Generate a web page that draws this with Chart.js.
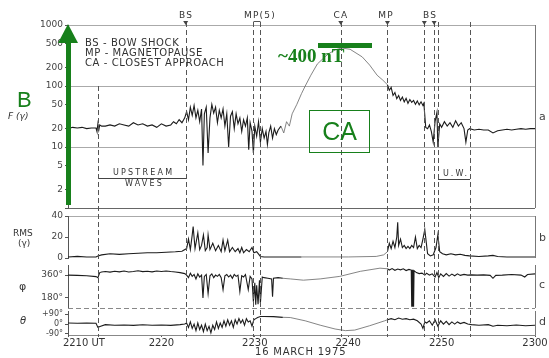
<!DOCTYPE html>
<html>
<head>
<meta charset="utf-8">
<script src="https://cdn.jsdelivr.net/npm/chart.js@4.4.1/dist/chart.umd.min.js"></script>
<style>
body { margin: 0; background: #fff; }
#wrap { position: relative; width: 549px; height: 358px; overflow: hidden; font-family: "DejaVu Sans", sans-serif; color: #333; }
#wrap canvas { position: absolute; left: 0; top: 0; }
.t { position: absolute; white-space: nowrap; line-height: 1; }
.mk { font-size: 9px; letter-spacing: 1.2px; transform: translateX(-50%); top: 11px; }
.lg { font-size: 10px; letter-spacing: 0.6px; left: 85px; }
.pl { font-size: 11px; left: 539px; color: #444; }
.green { color: #17801b; }
</style>
</head>
<body>
<div id="wrap">
  <canvas id="cA" width="549" height="358"></canvas>
  <canvas id="cB" width="549" height="358"></canvas>
  <canvas id="cC" width="549" height="358"></canvas>
  <canvas id="cD" width="549" height="358"></canvas>

  <div class="t mk" style="left:186px">BS</div>
  <div class="t mk" style="left:260px">MP(5)</div>
  <div class="t mk" style="left:341px">CA</div>
  <div class="t mk" style="left:386px">MP</div>
  <div class="t mk" style="left:430px">BS</div>

  <div class="t lg" style="top:38px">BS - BOW SHOCK</div>
  <div class="t lg" style="top:48px">MP - MAGNETOPAUSE</div>
  <div class="t lg" style="top:58px">CA - CLOSEST APPROACH</div>

  <div class="t" style="left:113px;top:169px;font-size:8px;letter-spacing:2.2px">UPSTREAM</div>
  <div class="t" style="left:125px;top:180px;font-size:8px;letter-spacing:2.2px">WAVES</div>
  <div class="t" style="left:99px;top:178px;width:87px;height:0;border-top:1px solid #444"></div>
  <div class="t" style="left:443px;top:170px;font-size:8px;letter-spacing:2px">U.W.</div>
  <div class="t" style="left:438px;top:179px;width:32px;height:0;border-top:1px solid #444"></div>

  <div class="t" style="left:8px;top:112px;font-size:9px;font-style:italic">F (γ)</div>
  <div class="t" style="left:13px;top:229px;font-size:9px">RMS</div>
  <div class="t" style="left:18px;top:239px;font-size:9px">(γ)</div>
  <div class="t" style="left:19px;top:281px;font-size:11px">φ</div>
  <div class="t" style="left:20px;top:316px;font-size:10px;font-style:italic">θ</div>

  <div class="t pl" style="top:111px">a</div>
  <div class="t pl" style="top:232px">b</div>
  <div class="t pl" style="top:279px">c</div>
  <div class="t pl" style="top:316px">d</div>

  <div class="t" style="left:255px;top:347px;font-size:10px;letter-spacing:0.8px">16 MARCH 1975</div>

  <!-- green overlay annotations -->
  <div class="t" style="left:66px;top:40px;width:5px;height:165px;background:#17801b"></div>
  <div class="t" style="left:58px;top:24px;width:0;height:0;border-left:10px solid transparent;border-right:10px solid transparent;border-bottom:19px solid #17801b"></div>
  <div class="t green" style="left:17px;top:89px;font-family:'Liberation Sans',sans-serif;font-size:22px">B</div>
  <div class="t" style="left:318px;top:43px;width:54px;height:5px;background:#17801b"></div>
  <div class="t green" style="left:278px;top:46px;font-family:'Liberation Serif',serif;font-weight:bold;font-size:19px">~400 nT</div>
  <div class="t green" style="left:309px;top:110px;width:59px;height:41px;border:1px solid #17801b;font-family:'Liberation Sans',sans-serif;font-size:25px;text-align:center;line-height:41px">CA</div>
</div>

<script>
// time axis: minutes after 2210 UT
const xTicks = [0, 10, 20, 30, 40, 50];
const xLabels = ['2210 UT', '2220', '2230', '2240', '2250', '2300'];

// event lines (BS, MP, CA crossings, upstream wave limits)
const eventTimes = [3.2, 12.6, 19.8, 20.6, 29.2, 34.2, 38.15, 39.2, 39.65, 43.0];

// panel a: field magnitude F (gamma), log scale
const aTicks = [1, 2, 5, 10, 20, 50, 100, 200, 500, 1000];
const tA = [
  0, 0.5, 1, 1.5, 2, 2.5, 3, 3.1, 3.2, 3.3, 3.4, 3.6,
  4, 4.5, 5, 5.5, 6, 6.5, 7, 7.5, 8, 8.5, 9, 9.5, 10, 10.5, 11, 11.3, 11.6, 11.9, 12.2, 12.5,
  12.7, 12.9, 13.1, 13.3, 13.5, 13.7, 13.9, 14.1, 14.3, 14.45, 14.6, 14.8, 15.0, 15.2, 15.4, 15.6, 15.8, 16.0, 16.2, 16.4,
  16.6, 16.8, 17.0, 17.2, 17.4, 17.6, 17.8, 18.0, 18.2, 18.4, 18.6, 18.8, 19.0, 19.2, 19.35, 19.5, 19.7, 19.85, 20.0, 20.2,
  20.4, 20.6, 20.8, 21.0, 21.2, 21.35, 21.5, 21.7, 21.9, 22.1, 22.3, 22.5,
  22.8, 23.1, 23.4, 23.7, 24.0, 24.5, 25.0, 25.4, 26.0, 26.7, 27.3, 27.8, 28.6, 29.3, 30.2, 31.5, 32.3, 33.1, 33.7, 34.2,
  34.4, 34.6, 34.8, 35.0, 35.2, 35.4, 35.6, 35.8, 36.0, 36.2, 36.4, 36.6, 36.8, 37.0, 37.2, 37.4, 37.6, 37.8, 38.0, 38.1,
  38.3, 38.5, 38.7, 38.9, 39.1, 39.3, 39.5, 39.6, 39.8, 40.0, 40.3, 40.6, 40.9, 41.2, 41.5, 41.8, 42.1, 42.4, 42.6, 42.8, 43.0,
  43.5, 44, 44.5, 45, 45.5, 46, 46.5, 47, 47.5, 48, 48.5, 49, 49.5, 50
];
const fA = [
  20, 21, 20.5, 21, 20, 20.5, 20.5, 18, 24, 19, 23, 22,
  22, 23, 22, 24, 23, 22, 25, 23, 24, 22, 23, 21, 24, 22, 23, 26, 24, 28, 25, 30,
  38, 28, 45, 33, 48, 30, 40, 26, 42, 5, 35, 45, 8, 30, 50, 36, 45, 25, 40, 30,
  42, 22, 35, 10, 32, 38, 20, 35, 24, 30, 18, 28, 22, 30, 9, 25, 18, 8, 22, 15,
  26, 12, 20, 14, 18, 11, 17, 22, 14, 20, 16, 19,
  22, 17, 26, 22, 35, 50, 75, 100, 150, 230, 280, 330, 390, 420, 400, 300, 220, 150, 125, 105,
  85, 95, 70, 78, 62, 70, 58, 66, 55, 63, 52, 60, 54, 58, 50, 57, 49, 55, 48, 52,
  21, 20, 23, 18, 12, 26, 37, 10, 24, 21, 26, 22, 25, 21, 27, 22, 25, 20, 12, 19, 20,
  19, 19.5, 19, 19, 17, 18.5, 19, 19.5, 19, 19.5, 20, 19.5, 20, 20
];

// panel b: RMS (gamma)
const bTicks = [0, 20, 40];
const tB = [
  0, 1, 2, 3, 3.2, 3.6, 4.5, 5.5, 6.5, 7.5, 8.5, 9.5, 10.5, 11.5, 12.2,
  12.7, 12.9, 13.1, 13.3, 13.4, 13.6, 13.9, 14.1, 14.3, 14.5, 14.7, 14.9, 15.0, 15.2, 15.5, 15.8, 16.1,
  16.4, 16.6, 16.8, 17.1, 17.3, 17.6, 17.9, 18.2, 18.4, 18.6, 18.8, 19.1, 19.4, 19.7, 19.9, 20.2, 20.6,
  21, 25, 30, 33, 33.8, 34.2,
  34.4, 34.6, 34.8, 35.0, 35.2, 35.3, 35.4, 35.6, 35.8, 36.0, 36.2, 36.4, 36.6, 36.8, 37.0, 37.2, 37.4, 37.6, 37.8, 38.0, 38.2,
  38.5, 38.8, 39.1, 39.4, 39.6, 39.8, 40.1, 40.5, 41, 41.5, 42, 42.5, 43, 44, 45, 45.5, 46, 47, 50
];
const rmsB = [
  1, 1.5, 1, 1, 2, 3, 4, 3.5, 4, 4.5, 5, 5, 5.5, 6, 6.5,
  9, 18, 8, 22, 30, 9, 24, 8, 12, 22, 7, 10, 22, 8, 14, 7, 12,
  6, 17, 7, 17, 6, 10, 6, 9, 5, 10, 5, 8, 6, 10, 5, 6, 1.5,
  1, 1, 1, 1.5, 3, 6,
  14, 9, 16, 10, 20, 34, 12, 18, 10, 12, 9, 11, 9, 12, 10, 20, 9, 12, 10, 18, 27,
  4, 2, 3, 10, 22, 6, 4, 3, 4, 3, 3.5, 2.5, 2, 1.5, 2, 2.5, 1.5, 1, 1
];

// panel c: azimuth phi (deg)
const cTicks = [180, 360];
const tC = [
  0, 1, 2, 3, 3.2, 3.4, 3.6,
  4, 4.5, 5, 5.5, 6, 6.5, 7, 7.5, 8, 8.5, 9, 9.5, 10, 10.5, 11, 11.5, 12, 12.5,
  12.7, 12.9, 13.1, 13.3, 13.5, 13.7, 13.9, 14.1, 14.3, 14.45, 14.6, 14.8, 15.0, 15.2, 15.4, 15.6, 15.8, 16.0, 16.2, 16.4,
  16.6, 16.8, 17.0, 17.2, 17.4, 17.6, 17.8, 18.0, 18.2, 18.4, 18.6, 18.8, 19.0, 19.3, 19.5, 19.7, 19.85, 20.0, 20.1, 20.2,
  20.35, 20.5, 20.6, 20.8,
  21.0, 21.4, 21.8, 21.9, 22.0, 22.5, 23, 23.8, 25.2, 27, 29.1, 31.3, 33.4, 34.2,
  34.4, 34.7, 35.0, 35.3, 35.6, 35.9, 36.2, 36.5, 36.75, 36.8, 36.85, 36.9, 36.95, 37.0, 37.05, 37.3, 37.6, 37.9, 38.2,
  38.4, 38.7, 39.0, 39.3, 39.5, 39.7, 39.9, 40.2, 40.5, 40.8, 41.1, 41.4, 41.7, 42.0, 42.4, 42.8, 43.2, 43.8,
  44.5, 45.2, 45.5, 45.8, 46.5, 47.5, 48.5, 48.9, 49.2, 50
];
const phiC = [
  360, 358, 355, 348, 340, 380, 385,
  388, 384, 390, 386, 392, 385, 389, 394, 388, 391, 386, 392, 389, 393, 388, 385, 380, 372,
  360, 340, 375, 350, 365, 330, 370, 345, 360, 180, 350, 365, 215, 355, 370, 340, 360, 350, 365, 340,
  245, 355, 365, 345, 360, 335, 365, 350, 360, 230, 355, 345, 365, 245, 350, 330, 150, 300, 125, 280,
  130, 320, 140, 345,
  340, 335, 330, 190, 335, 340, 335, 330, 320, 330, 350, 390, 415, 410,
  400, 412, 398, 408, 402, 410, 396, 405, 400, 110, 402, 110, 398, 110, 395, 380, 372, 376, 360,
  375, 360, 370, 345, 380, 340, 370, 350, 372, 352, 368, 355, 370, 358, 366, 360, 362, 360,
  362, 358, 335, 358, 360, 365, 360, 345, 365, 370
];

// panel d: latitude theta (deg)
const dTicks = [-90, 0, 90];
const tD = [
  0, 1, 2, 3, 3.2, 3.5, 4, 5, 6, 7, 8, 9, 10, 11, 12, 12.5,
  12.7, 12.9, 13.1, 13.3, 13.5, 13.7, 13.9, 14.1, 14.3, 14.5, 14.7, 14.9, 15.1, 15.3, 15.5, 15.7, 15.9, 16.1, 16.3, 16.5,
  16.7, 16.9, 17.1, 17.3, 17.5, 17.7, 17.9, 18.1, 18.3, 18.5, 18.7, 18.9, 19.1, 19.3, 19.5, 19.7, 19.9, 20.1, 20.3, 20.6,
  21, 22, 23, 23.8, 25.4, 27, 28.6, 29.7, 30.7, 32.3, 33.9, 34.2,
  34.6, 35, 35.4, 35.8, 36.2, 36.6, 37.0, 37.4, 37.8, 38.0, 38.2,
  38.4, 38.7, 39.0, 39.3, 39.6, 39.9, 40.2, 40.5, 40.8, 41.1, 41.4, 41.7, 42.0, 42.4, 42.8, 43.2,
  44, 45, 45.5, 46, 47, 48, 49, 50
];
const thetaD = [
  10, 8, 10, 8, -30, -20, -5, -10, -8, -12, -6, -10, -8, -12, -5, 0,
  10, -30, 20, -40, 0, -60, 10, -50, -10, -70, 0, -60, -20, -80, -10, -50, 20, -40, 10, -30,
  30, -20, 40, -10, 30, -30, 40, 0, 50, 10, 40, -10, 50, 20, 30, -20, 40, 50, 60, 70,
  70, 68, 62, 60, 30, -10, -45, -60, -55, -15, 30, 40,
  50, 40, 55, 45, 50, 40, 45, 30, 0, -40, 20,
  10, 30, -10, 40, -20, 30, 0, 25, -5, 20, 0, 20, 5, 15, 0, -5,
  -10, -5, -20, -10, -15, -8, -15, -10
];

// quiet interval around closest approach is drawn thinner
const smoothFrom = 22.6;
const smoothTo = 34.2;

function pts(ts, vs) {
    return ts.map((t, i) => ({ x: t, y: vs[i] }));
}

const tickFont = { family: 'DejaVu Sans', size: 9 };

function dataset(points) {
    return {
        data: points,
        borderColor: '#1c1c1c',
        borderWidth: 1.1,
        pointRadius: 0,
        tension: 0,
        segment: {
            borderColor: ctx => (ctx.p0.parsed.x >= smoothFrom && ctx.p1.parsed.x <= smoothTo) ? '#666' : undefined,
            borderWidth: ctx => (ctx.p0.parsed.x >= smoothFrom && ctx.p1.parsed.x <= smoothTo) ? 0.8 : undefined
        }
    };
}

// right edge and optional dashed bottom edge of each panel
const framePlugin = {
    id: 'frame',
    afterDraw(chart, args, opts) {
        const a = chart.chartArea;
        const ctx = chart.ctx;
        ctx.save();
        ctx.strokeStyle = '#777';
        ctx.lineWidth = 1;
        ctx.beginPath();
        ctx.moveTo(Math.round(a.right) + 0.5, a.top);
        ctx.lineTo(Math.round(a.right) + 0.5, a.bottom);
        ctx.stroke();
        if (opts.dashedBottom) {
            ctx.setLineDash([5, 3]);
            ctx.strokeStyle = '#888';
            ctx.beginPath();
            ctx.moveTo(a.left, Math.round(a.bottom) + 0.5);
            ctx.lineTo(a.right, Math.round(a.bottom) + 0.5);
            ctx.stroke();
        }
        ctx.restore();
    }
};

// dashed event lines through all panels
const eventPlugin = {
    id: 'events',
    afterDraw(chart) {
        const xs = chart.scales.x;
        const ctx = chart.ctx;
        ctx.save();
        ctx.strokeStyle = '#555';
        ctx.lineWidth = 1;
        ctx.setLineDash([5, 3]);
        eventTimes.forEach(t => {
            const px = Math.round(xs.getPixelForValue(t)) + 0.5;
            const top = t < 5 ? 86 : 22;
            ctx.beginPath();
            ctx.moveTo(px, top);
            ctx.lineTo(px, 337);
            ctx.stroke();
        });
        ctx.setLineDash([]);
        // MP(5) bracket
        ctx.beginPath();
        ctx.moveTo(Math.round(xs.getPixelForValue(eventTimes[2])) + 0.5, 21.5);
        ctx.lineTo(Math.round(xs.getPixelForValue(eventTimes[3])) + 0.5, 21.5);
        ctx.stroke();
        // small marker triangles
        ctx.fillStyle = '#444';
        [eventTimes[1], eventTimes[4], eventTimes[5], eventTimes[6], eventTimes[7]].forEach(t => {
            const px = xs.getPixelForValue(t);
            ctx.beginPath();
            ctx.moveTo(px - 2.5, 21);
            ctx.lineTo(px + 2.5, 21);
            ctx.lineTo(px, 25);
            ctx.closePath();
            ctx.fill();
        });
        ctx.restore();
    }
};

function hiddenX() {
    return { type: 'linear', min: 0, max: 50, display: false };
}

function baseOptions(top, bottom, yScale, xScale, frameOpts) {
    return {
        responsive: false,
        animation: false,
        events: [],
        layout: { padding: { top: top, bottom: 358 - bottom, left: 0, right: 14 } },
        plugins: { legend: { display: false }, tooltip: { enabled: false }, frame: frameOpts || {} },
        scales: { x: xScale, y: yScale }
    };
}

const fixWidth = s => { s.width = 68; };

// panel a
new Chart(document.getElementById('cA'), {
    type: 'line',
    data: { datasets: [dataset(pts(tA, fA))] },
    options: baseOptions(25, 208, {
        type: 'logarithmic', min: 1, max: 1000,
        afterFit: fixWidth,
        afterBuildTicks: s => { s.ticks = aTicks.map(v => ({ value: v })); },
        ticks: { font: tickFont, color: '#444', padding: 2, autoSkip: false, callback: v => (v === 1 ? '' : String(v)) },
        grid: {
            color: c => (c.tick && c.tick.value === 1) ? '#666' : ([10, 100, 1000].includes(c.tick && c.tick.value) ? '#aaa' : 'transparent'),
            tickColor: '#555', tickLength: 3
        },
        border: { color: '#555' }
    }, hiddenX()),
    plugins: [framePlugin]
});

// panel b
new Chart(document.getElementById('cB'), {
    type: 'line',
    data: { datasets: [dataset(pts(tB, rmsB))] },
    options: baseOptions(216, 258, {
        type: 'linear', min: 0, max: 40,
        afterFit: fixWidth,
        afterBuildTicks: s => { s.ticks = bTicks.map(v => ({ value: v })); },
        ticks: { font: tickFont, color: '#444', padding: 2, autoSkip: false },
        grid: { color: c => (c.tick && c.tick.value === 40) ? '#aaa' : 'transparent', tickColor: '#555', tickLength: 3 },
        border: { color: '#555' }
    }, hiddenX()),
    plugins: [framePlugin]
});

// panel c
new Chart(document.getElementById('cC'), {
    type: 'line',
    data: { datasets: [dataset(pts(tC, phiC))] },
    options: baseOptions(265, 308, {
        type: 'linear', min: 100, max: 440,
        afterFit: fixWidth,
        afterBuildTicks: s => { s.ticks = cTicks.map(v => ({ value: v })); },
        ticks: { font: tickFont, color: '#444', padding: 2, autoSkip: false, callback: v => v + '°' },
        grid: { color: 'transparent', tickColor: '#555', tickLength: 3 },
        border: { color: '#555' }
    }, hiddenX(), { dashedBottom: true }),
    plugins: [framePlugin]
});

// panel d with the time axis (x axis takes 18 px below the plot area)
new Chart(document.getElementById('cD'), {
    type: 'line',
    data: { datasets: [dataset(pts(tD, thetaD))] },
    options: baseOptions(311, 353, {
        type: 'linear', min: -100, max: 120,
        afterFit: fixWidth,
        afterBuildTicks: s => { s.ticks = dTicks.map(v => ({ value: v })); },
        ticks: { font: { family: 'DejaVu Sans', size: 8 }, color: '#444', padding: 2, autoSkip: false, callback: v => (v > 0 ? '+' : '') + v + '°' },
        grid: { color: 'transparent', tickColor: '#555', tickLength: 3 },
        border: { color: '#555' }
    }, {
        type: 'linear', min: 0, max: 50,
        afterFit: s => { s.height = 18; },
        afterBuildTicks: s => { s.ticks = xTicks.map(v => ({ value: v })); },
        ticks: {
            font: { family: 'DejaVu Sans', size: 10 }, color: '#333', padding: 0, maxRotation: 0, autoSkip: false,
            callback: v => {
                const i = xTicks.indexOf(v);
                return i === 0 ? '\u2007\u2007\u2007\u2007\u2007' + xLabels[i] : xLabels[i];
            }
        },
        grid: { drawOnChartArea: false, tickColor: '#555', tickLength: 2 },
        border: { color: '#888', dash: [5, 3] }
    }),
    plugins: [framePlugin, eventPlugin]
});
</script>
</body>
</html>
